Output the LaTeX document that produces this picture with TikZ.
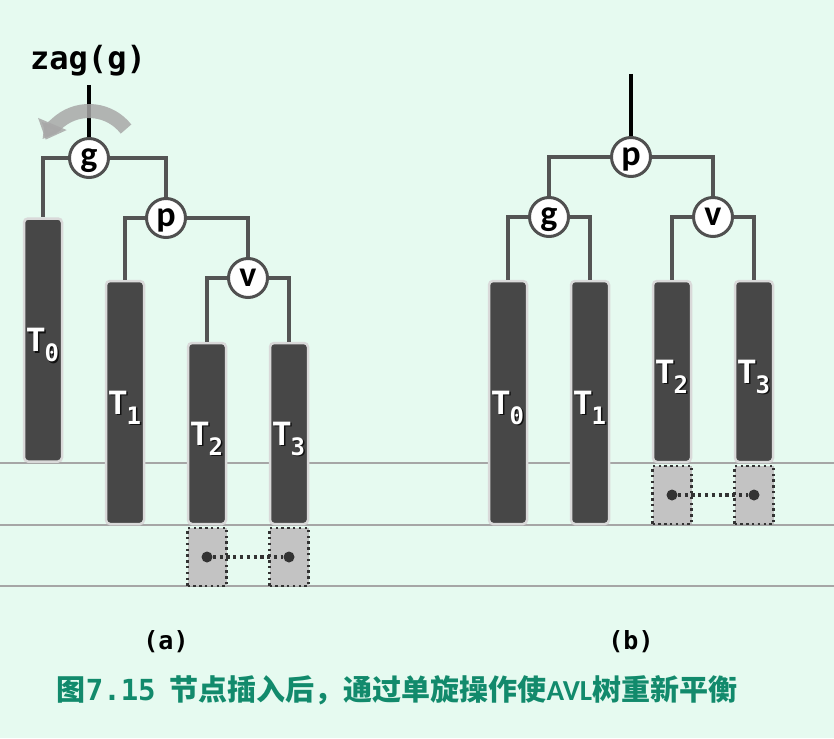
\documentclass[tikz,border=0pt]{standalone}
\usepackage{fontspec}
\usetikzlibrary{arrows.meta}
\newfontfamily\cjk{Noto Sans CJK SC}
\newfontfamily\carl{Carlito}
\newfontfamily\mono{DejaVu Sans Mono}
\definecolor{bgc}{HTML}{E6FAF0}
\definecolor{edgec}{HTML}{545454}
\definecolor{nodec}{HTML}{505050}
\definecolor{subf}{HTML}{474747}
\definecolor{subb}{HTML}{D9D9D9}
\definecolor{extf}{HTML}{C3C3C3}
\definecolor{dotc}{HTML}{333333}
\definecolor{levc}{HTML}{A6A6A6}
\definecolor{capc}{HTML}{128A6C}
\definecolor{rotc}{HTML}{A8A8A8}
\newcommand\Tlab[1]{T\raisebox{-10pt}{\mono\fontsize{24}{24}\selectfont #1}}
\begin{document}
\begin{tikzpicture}[x=1pt,y=-1pt,
  conn/.style={draw=edgec,line width=4pt},
  rootline/.style={draw=black,line width=3.5pt},
  tnode/.style={circle,draw=nodec,line width=3pt,fill=white,minimum size=39pt,inner sep=0pt,text height=16.5pt,text depth=0pt,font=\carl\bfseries\fontsize{36}{36}\selectfont},
  subtree/.style={rectangle,rounded corners=4pt,draw=subb,fill=subf,line width=2.5pt,minimum width=38pt,inner sep=0pt},
  extbox/.style={rectangle,draw=dotc,fill=extf,line width=2.4pt,dash pattern=on 2.4pt off 3.4pt,minimum width=39pt,minimum height=58pt,inner sep=0pt},
  xdot/.style={circle,fill=dotc,minimum size=11pt,inner sep=0pt},
  dotlink/.style={draw=dotc,line width=3.2pt,dash pattern=on 3.2pt off 3.6pt},
  lbl/.style={text=white,inner sep=0pt,text height=23pt,text depth=0pt,font=\carl\bfseries\fontsize{36}{36}\selectfont},
  shd/.style={lbl,text=black,opacity=0.75},
  levline/.style={draw=levc,line width=1.2pt},
  rotarr/.style={draw=rotc,line width=14pt,opacity=0.85,-{Triangle[width=30pt,length=17pt]}}
]
\fill[bgc] (0,0) rectangle (834,738);
\useasboundingbox (0,0) rectangle (834,738);
% level lines
\coordinate (l1a) at (0,463); \coordinate (l1b) at (834,463);
\coordinate (l2a) at (0,525); \coordinate (l2b) at (834,525);
\coordinate (l3a) at (0,586); \coordinate (l3b) at (834,586);
\draw[levline] (l1a) -- (l1b);
\draw[levline] (l2a) -- (l2b);
\draw[levline] (l3a) -- (l3b);

% ---------- (a) ----------
\node[tnode] (ag) at (89,158) {g};
\node[tnode] (ap) at (166,218) {p};
\node[tnode] (av) at (248,278) {v};
\node[subtree,minimum height=243pt] (a0) at (43,340) {};
\node[subtree,minimum height=243pt] (a1) at (125,402.5) {};
\node[subtree,minimum height=181pt] (a2) at (207,433.5) {};
\node[subtree,minimum height=181pt] (a3) at (289,433.5) {};
\node[extbox] (ae2) at (207,557) {};
\node[extbox] (ae3) at (289,557) {};
\node[xdot] (ad2) at (ae2.center) {};
\node[xdot] (ad3) at (ae3.center) {};
\draw[dotlink] (ad2) -- (ad3);
\draw[conn] (ag) -| (a0.north);
\draw[conn] (ag) -| (ap);
\draw[conn] (ap) -| (a1.north);
\draw[conn] (ap) -| (av);
\draw[conn] (av) -| (a2.north);
\draw[conn] (av) -| (a3.north);
\coordinate (atop) at (89,85);
\draw[rootline] (atop) -- (ag);
\draw[rotarr] (ag.center) ++(-38:47) arc[start angle=-38,end angle=-157,radius=47];
\node[anchor=base,font=\mono\bfseries\fontsize{32}{32}\selectfont] (zag) at (88,70) {zag(g)};
\foreach \n/\d in {a0/0,a1/1,a2/2,a3/3}{
  \node[shd] (s\n) at ([shift={(1.5,1.5)}]\n.center) {\Tlab{\d}};
  \node[lbl] (t\n) at (\n.center) {\Tlab{\d}};
}

% ---------- (b) ----------
\node[tnode] (bp) at (631,157) {p};
\node[tnode] (bg) at (549,217) {g};
\node[tnode] (bv) at (713,217) {v};
\node[subtree,minimum height=243pt] (b0) at (508,402.5) {};
\node[subtree,minimum height=243pt] (b1) at (590,402.5) {};
\node[subtree,minimum height=181pt] (b2) at (672,371.5) {};
\node[subtree,minimum height=181pt] (b3) at (754,371.5) {};
\node[extbox] (be2) at (672,495) {};
\node[extbox] (be3) at (754,495) {};
\node[xdot] (bd2) at (be2.center) {};
\node[xdot] (bd3) at (be3.center) {};
\draw[dotlink] (bd2) -- (bd3);
\draw[conn] (bp) -| (bg);
\draw[conn] (bp) -| (bv);
\draw[conn] (bg) -| (b0.north);
\draw[conn] (bg) -| (b1.north);
\draw[conn] (bv) -| (b2.north);
\draw[conn] (bv) -| (b3.north);
\coordinate (btop) at (631,74);
\draw[rootline] (btop) -- (bp);
\foreach \n/\d in {b0/0,b1/1,b2/2,b3/3}{
  \node[shd] (s\n) at ([shift={(1.5,1.5)}]\n.center) {\Tlab{\d}};
  \node[lbl] (t\n) at (\n.center) {\Tlab{\d}};
}

% ---------- captions ----------
\node[anchor=base,font=\mono\bfseries\fontsize{25}{25}\selectfont] (capa) at (166,649) {(a)};
\node[anchor=base,font=\mono\bfseries\fontsize{25}{25}\selectfont] (capb) at (631,649) {(b)};
\node[anchor=base,text=capc,font=\cjk\bfseries\fontsize{29}{29}\selectfont] (cap) at (397,700)
  {图{\mono\bfseries 7.15}\hspace{14pt}节点插入后，通过单旋操作使{\carl\bfseries AVL}树重新平衡};
\end{tikzpicture}
\end{document}
